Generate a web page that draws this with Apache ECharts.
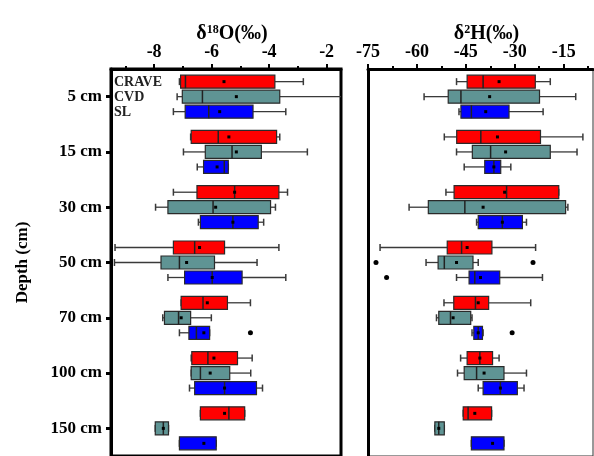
<!DOCTYPE html>
<html>
<head>
<meta charset="utf-8">
<script src="https://cdn.jsdelivr.net/npm/echarts@6/dist/echarts.min.js"></script>
<style>
  html, body { margin: 0; padding: 0; background: #fff; }
  #main { width: 594px; height: 456px; }
</style>
</head>
<body>
<div id="main"></div>
<script>
// depth classes, top to bottom
const depths = ['5 cm', '15 cm', '30 cm', '50 cm', '70 cm', '100 cm', '150 cm'];
const groupNames = ['CRAVE', 'CVD', 'SL'];

// [min, q1, median, q3, max] per depth
const o18Crave = [[-7.12, -7.08, -6.91, -3.80, -2.81], [-6.73, -6.71, -5.77, -3.74, -3.63], [-7.33, -6.51, -5.20, -3.66, -3.36],
  [-9.36, -7.33, -6.59, -5.55, -3.66], [-7.06, -7.06, -6.30, -5.45, -4.65], [-6.71, -6.69, -6.13, -5.10, -4.59], [-6.39, -6.39, -5.40, -4.85, -4.85]];
const o18CraveMean = [-5.57, -5.40, -5.20, -6.42, -6.15, -5.92, -5.55];
const o18Cvd = [[-7.20, -7.02, -6.32, -3.63, -1.30], [-6.98, -6.22, -5.29, -4.27, -2.67], [-7.95, -7.52, -5.95, -3.95, -3.78],
  [-9.38, -7.76, -7.12, -5.90, -4.42], [-7.70, -7.64, -7.15, -6.73, -6.01], [-6.71, -6.71, -6.39, -5.37, -4.64], [-7.96, -7.96, -7.68, -7.50, -7.50]];
const o18CvdMean = [-5.14, -5.14, -5.86, -6.87, -7.06, -6.05, -7.68];
const o18Sl = [[-7.33, -6.92, -6.10, -4.56, -3.42], [-6.50, -6.28, -5.56, -5.42, -5.42], [-6.46, -6.39, -5.26, -4.38, -4.19],
  [-7.52, -6.94, -5.98, -4.94, -3.42], [-7.12, -6.79, -6.53, -6.07, -6.07], [-6.77, -6.59, -5.55, -4.44, -4.23], [-7.12, -7.12, null, -5.84, -5.84]];
const o18SlMean = [-5.72, -5.81, -5.26, -5.98, -6.27, -5.55, -6.27];
const o18SlOut = [[-4.65, 4]];

const h2Crave = [[-47.85, -44.6, -39.7, -23.7, -19.1], [-51.6, -47.8, -40.4, -22.1, -9.1], [-51.1, -48.6, -32.5, -16.5, -16.5],
  [-71.3, -50.7, -46.3, -37.0, -23.6], [-51.7, -48.7, -42.05, -38.0, -25.1], [-46.6, -44.6, -40.7, -36.8, -34.8], [-45.8, -45.8, -44.3, -37.1, -37.1]];
const h2CraveMean = [-34.8, -35.3, -33.1, -44.6, -41.2, -40.7, -42.25];
const h2Cvd = [[-57.8, -50.4, -46.5, -22.4, -11.3], [-47.85, -43.0, -37.4, -19.1, -10.9], [-62.4, -56.5, -45.3, -14.4, -13.7],
  [-57.2, -53.5, -51.6, -42.8, -41.2], [-54.0, -53.3, -49.7, -43.5, -43.1], [-47.55, -45.5, -41.7, -33.3, -26.4], [-54.5, -54.5, -53.3, -51.6, -51.6]];
const h2CvdMean = [-37.7, -32.8, -39.7, -47.85, -48.9, -39.4, -53.3];
const h2CvdOut = [[-72.55, 3], [-24.4, 3]];
const h2Sl = [[-47.1, -46.5, -43.3, -31.75, -21.3], [-45.5, -39.2, -36.4, -34.3, -31.2], [-41.7, -41.2, -33.8, -27.65, -26.4],
  [-47.85, -44.0, -42.25, -34.6, -21.5], [-43.1, -42.55, -41.2, -39.9, -39.7], [-41.2, -39.7, -34.4, -29.2, -27.15], [-43.3, -43.3, null, -33.3, -33.3]];
const h2SlMean = [-38.9, -36.4, -33.8, -40.5, -41.2, -34.4, -36.8];
const h2SlOut = [[-69.3, 3], [-30.8, 4]];

// axis ticks
const o18Ticks = [-8, -6, -4, -2];
const o18Minor = [-9, -7, -5, -3];
const h2Ticks = [-75, -60, -45, -30, -15];
const h2Minor = [-67.5, -52.5, -37.5, -22.5, -7.5];

const serif = '"Liberation Serif", "Times New Roman", serif';
const colors = ['#ff0000', '#5f9494', '#0000ff'];
const offsets = [-15, 0, 15];

function rows(box, mean) {
  return box.map((b, i) => [i, b[0], b[1], b[2] == null ? '-' : b[2], b[3], b[4], mean[i]]);
}

function boxRenderer(offset, color) {
  return function (params, api) {
    const cat = api.value(0);
    const cs = params.coordSys;
    const right = cs.x + cs.width;
    const raw = v => api.coord([v, cat])[0];
    const px = v => Math.max(cs.x, Math.min(right, raw(v)));
    const y = api.coord([api.value(2), cat])[1] + offset;
    const bh = 13, ch = 7;
    const lo = px(api.value(1)), q1 = px(api.value(2)), q3 = px(api.value(4)), hi = px(api.value(5));
    const line = (x1, y1, x2, y2, w, c) => ({
      type: 'line', shape: { x1: x1, y1: y1, x2: x2, y2: y2 },
      style: { stroke: c || '#3a3a3a', lineWidth: w }
    });
    const kids = [line(lo, y, q1, y, 1.3), line(q3, y, hi, y, 1.3)];
    if (raw(api.value(1)) >= cs.x) kids.push(line(lo, y - ch / 2, lo, y + ch / 2, 1.5));
    if (raw(api.value(5)) <= right) kids.push(line(hi, y - ch / 2, hi, y + ch / 2, 1.5));
    kids.push({
      type: 'rect', shape: { x: q1, y: y - bh / 2, width: q3 - q1, height: bh },
      style: { fill: color, stroke: '#2a2a2a', lineWidth: 1.2 }
    });
    const med = api.value(3);
    if (!isNaN(med)) {
      const m = px(med);
      kids.push(line(m, y - bh / 2, m, y + bh / 2, 1.5, '#222'));
    }
    const mx = px(api.value(6));
    kids.push({ type: 'rect', shape: { x: mx - 1.5, y: y - 1.5, width: 3, height: 3 }, style: { fill: '#000' } });
    return { type: 'group', children: kids };
  };
}

function boxSeries(box, mean, k, xi, yi) {
  return {
    type: 'custom',
    name: groupNames[k],
    xAxisIndex: xi, yAxisIndex: yi,
    renderItem: boxRenderer(offsets[k], colors[k]),
    encode: { x: [1, 2, 4, 5], y: 0 },
    data: rows(box, mean)
  };
}

function outSeries(pts, k, xi, yi) {
  return {
    type: 'scatter', xAxisIndex: xi, yAxisIndex: yi,
    symbol: 'circle', symbolSize: 5, symbolOffset: [0, offsets[k]],
    itemStyle: { color: '#000', opacity: 1 },
    data: pts
  };
}

function topAxis(gi, min, max, ticks, title) {
  return {
    type: 'value', gridIndex: gi, position: 'top', min: min, max: max,
    axisLine: { show: true, lineStyle: { color: '#000', width: 3 } },
    axisTick: { show: true, customValues: ticks, length: 5, lineStyle: { color: '#000', width: 2 } },
    axisLabel: { customValues: ticks, margin: 8, color: '#000', fontSize: 18, fontWeight: 'bold', fontFamily: serif },
    splitLine: { show: false },
    name: title, nameLocation: 'middle', nameGap: 25, nameMoveOverlap: false,
    nameTextStyle: {
      padding: [0, 0, 0, 12],
      rich: {
        g: { fontSize: 20, fontWeight: 'bold', fontFamily: serif, color: '#000' },
        s: { fontSize: 12, fontWeight: 'bold', fontFamily: serif, color: '#000', verticalAlign: 'top' }
      }
    }
  };
}

function minorAxis(gi, min, max, ticks) {
  return {
    type: 'value', gridIndex: gi, position: 'top', min: min, max: max,
    axisLine: { show: false },
    axisTick: { show: true, customValues: ticks, length: 3, lineStyle: { color: '#000', width: 2 } },
    axisLabel: { show: false }, splitLine: { show: false }
  };
}

const chart = echarts.init(document.getElementById('main'), null, { renderer: 'canvas' });
chart.setOption({
  animation: false,
  backgroundColor: '#fff',
  grid: [
    { left: 111, top: 69, width: 230, height: 389, show: true, borderColor: '#000', borderWidth: 3 },
    { left: 368, top: 69, width: 225, height: 389, show: true, borderColor: '#333', borderWidth: 1 }
  ],
  xAxis: [
    topAxis(0, -9.5, -1.5, o18Ticks, '{g|δ}{s|18}{g|O(‰)}'),
    minorAxis(0, -9.5, -1.5, o18Minor),
    topAxis(1, -75, -6, h2Ticks, '{g|δ}{s|2}{g|H(‰)}'),
    minorAxis(1, -75, -6, h2Minor)
  ],
  yAxis: [
    {
      type: 'category', gridIndex: 0, data: depths, inverse: true,
      axisLine: { show: true, lineStyle: { color: '#000', width: 3 } },
      axisTick: { show: true, alignWithLabel: true, length: 5, lineStyle: { color: '#000', width: 3 } },
      axisLabel: { margin: 9, color: '#000', fontSize: 17, fontWeight: 'bold', fontFamily: serif },
      name: 'Depth (cm)', nameLocation: 'middle', nameGap: 80, nameRotate: 90,
      nameTextStyle: { color: '#000', fontSize: 17, fontWeight: 'bold', fontFamily: serif }
    },
    {
      type: 'category', gridIndex: 1, data: depths, inverse: true,
      axisLine: { show: true, lineStyle: { color: '#000', width: 3 } },
      axisTick: { show: false }, axisLabel: { show: false }
    }
  ],
  graphic: groupNames.map((n, k) => ({
    type: 'text', x: 114, y: 97 + offsets[k], z: 10,
    style: { text: n, fill: '#222', font: 'bold 14px ' + serif, verticalAlign: 'middle' }
  })),
  series: [
    boxSeries(o18Crave, o18CraveMean, 0, 0, 0),
    boxSeries(o18Cvd, o18CvdMean, 1, 0, 0),
    boxSeries(o18Sl, o18SlMean, 2, 0, 0),
    outSeries(o18SlOut, 2, 0, 0),
    boxSeries(h2Crave, h2CraveMean, 0, 2, 1),
    boxSeries(h2Cvd, h2CvdMean, 1, 2, 1),
    boxSeries(h2Sl, h2SlMean, 2, 2, 1),
    outSeries(h2CvdOut, 1, 2, 1),
    outSeries(h2SlOut, 2, 2, 1)
  ]
});
</script>
</body>
</html>
